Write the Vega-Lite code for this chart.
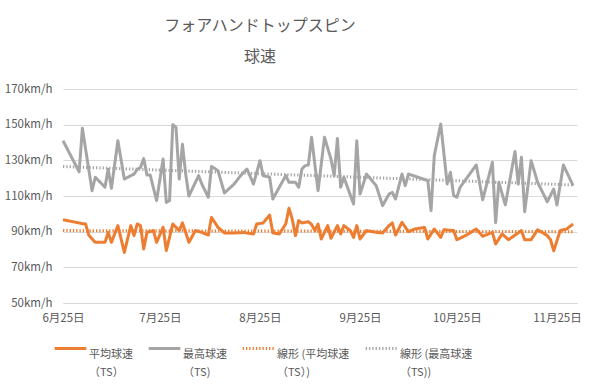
{
  "$schema": "https://vega.github.io/schema/vega-lite/v6.json",
  "width": 514,
  "height": 214,
  "autosize": {"type": "none"},
  "padding": {"left": 63, "top": 89, "right": 14, "bottom": 81},
  "background": "white",
  "title": {
    "text": ["フォアハンドトップスピン", "球速"],
    "font": "Noto Sans CJK JP",
    "fontSize": 16,
    "fontWeight": "normal",
    "color": "#595959",
    "lineHeight": 31,
    "anchor": "middle",
    "baseline": "bottom",
    "offset": 2,
    "dx": -60
  },
  "config": {
    "font": "Noto Sans CJK JP",
    "view": {"stroke": null},
    "style": {"guide-label": {"lineHeight": 18}},
    "axis": {
      "labelFont": "Noto Sans CJK JP",
      "labelColor": "#595959",
      "labelFontSize": 11.5,
      "ticks": false,
      "tickSize": 0,
      "title": null
    }
  },
  "data": {
    "values": [
      {"series": "平均球速（TS）", "date": "2017-06-25", "value": 96.7},
      {"series": "平均球速（TS）", "date": "2017-07-01", "value": 94.5},
      {"series": "平均球速（TS）", "date": "2017-07-02", "value": 94.3},
      {"series": "平均球速（TS）", "date": "2017-07-03", "value": 88},
      {"series": "平均球速（TS）", "date": "2017-07-05", "value": 84},
      {"series": "平均球速（TS）", "date": "2017-07-08", "value": 84},
      {"series": "平均球速（TS）", "date": "2017-07-09", "value": 89.6},
      {"series": "平均球速（TS）", "date": "2017-07-10", "value": 84},
      {"series": "平均球速（TS）", "date": "2017-07-12", "value": 93.4},
      {"series": "平均球速（TS）", "date": "2017-07-14", "value": 78.4},
      {"series": "平均球速（TS）", "date": "2017-07-16", "value": 93.4},
      {"series": "平均球速（TS）", "date": "2017-07-17", "value": 87.8},
      {"series": "平均球速（TS）", "date": "2017-07-18", "value": 94.3},
      {"series": "平均球速（TS）", "date": "2017-07-19", "value": 93.4},
      {"series": "平均球速（TS）", "date": "2017-07-20", "value": 80.3},
      {"series": "平均球速（TS）", "date": "2017-07-21", "value": 89.6},
      {"series": "平均球速（TS）", "date": "2017-07-23", "value": 90.6},
      {"series": "平均球速（TS）", "date": "2017-07-24", "value": 84},
      {"series": "平均球速（TS）", "date": "2017-07-26", "value": 92.5},
      {"series": "平均球速（TS）", "date": "2017-07-27", "value": 79.4},
      {"series": "平均球速（TS）", "date": "2017-07-29", "value": 94.3},
      {"series": "平均球速（TS）", "date": "2017-07-31", "value": 90.6},
      {"series": "平均球速（TS）", "date": "2017-08-01", "value": 94.9},
      {"series": "平均球速（TS）", "date": "2017-08-02", "value": 89.6},
      {"series": "平均球速（TS）", "date": "2017-08-03", "value": 84},
      {"series": "平均球速（TS）", "date": "2017-08-05", "value": 90.6},
      {"series": "平均球速（TS）", "date": "2017-08-07", "value": 89.6},
      {"series": "平均球速（TS）", "date": "2017-08-09", "value": 88.1},
      {"series": "平均球速（TS）", "date": "2017-08-10", "value": 98},
      {"series": "平均球速（TS）", "date": "2017-08-12", "value": 92.4},
      {"series": "平均球速（TS）", "date": "2017-08-14", "value": 89.3},
      {"series": "平均球速（TS）", "date": "2017-08-17", "value": 89.3},
      {"series": "平均球速（TS）", "date": "2017-08-20", "value": 89.5},
      {"series": "平均球速（TS）", "date": "2017-08-23", "value": 88.7},
      {"series": "平均球速（TS）", "date": "2017-08-24", "value": 94.3},
      {"series": "平均球速（TS）", "date": "2017-08-26", "value": 94.9},
      {"series": "平均球速（TS）", "date": "2017-08-28", "value": 99.3},
      {"series": "平均球速（TS）", "date": "2017-08-29", "value": 89.3},
      {"series": "平均球速（TS）", "date": "2017-08-31", "value": 88.7},
      {"series": "平均球速（TS）", "date": "2017-09-02", "value": 94.3},
      {"series": "平均球速（TS）", "date": "2017-09-03", "value": 103.1},
      {"series": "平均球速（TS）", "date": "2017-09-04", "value": 97.1},
      {"series": "平均球速（TS）", "date": "2017-09-05", "value": 87.8},
      {"series": "平均球速（TS）", "date": "2017-09-06", "value": 96.2},
      {"series": "平均球速（TS）", "date": "2017-09-07", "value": 94.9},
      {"series": "平均球速（TS）", "date": "2017-09-09", "value": 95.6},
      {"series": "平均球速（TS）", "date": "2017-09-10", "value": 94},
      {"series": "平均球速（TS）", "date": "2017-09-11", "value": 90.6},
      {"series": "平均球速（TS）", "date": "2017-09-12", "value": 94.3},
      {"series": "平均球速（TS）", "date": "2017-09-13", "value": 85.9},
      {"series": "平均球速（TS）", "date": "2017-09-15", "value": 93.4},
      {"series": "平均球速（TS）", "date": "2017-09-16", "value": 86.3},
      {"series": "平均球速（TS）", "date": "2017-09-18", "value": 93.4},
      {"series": "平均球速（TS）", "date": "2017-09-19", "value": 88.7},
      {"series": "平均球速（TS）", "date": "2017-09-20", "value": 93.4},
      {"series": "平均球速（TS）", "date": "2017-09-22", "value": 90.6},
      {"series": "平均球速（TS）", "date": "2017-09-23", "value": 86.8},
      {"series": "平均球速（TS）", "date": "2017-09-24", "value": 93.4},
      {"series": "平均球速（TS）", "date": "2017-09-25", "value": 85.9},
      {"series": "平均球速（TS）", "date": "2017-09-27", "value": 90.6},
      {"series": "平均球速（TS）", "date": "2017-09-30", "value": 89.6},
      {"series": "平均球速（TS）", "date": "2017-10-02", "value": 89.3},
      {"series": "平均球速（TS）", "date": "2017-10-04", "value": 93.4},
      {"series": "平均球速（TS）", "date": "2017-10-05", "value": 94.9},
      {"series": "平均球速（TS）", "date": "2017-10-06", "value": 88.1},
      {"series": "平均球速（TS）", "date": "2017-10-08", "value": 95.2},
      {"series": "平均球速（TS）", "date": "2017-10-10", "value": 90},
      {"series": "平均球速（TS）", "date": "2017-10-12", "value": 91.5},
      {"series": "平均球速（TS）", "date": "2017-10-15", "value": 92.4},
      {"series": "平均球速（TS）", "date": "2017-10-16", "value": 85.9},
      {"series": "平均球速（TS）", "date": "2017-10-18", "value": 91.5},
      {"series": "平均球速（TS）", "date": "2017-10-20", "value": 86.8},
      {"series": "平均球速（TS）", "date": "2017-10-21", "value": 91.1},
      {"series": "平均球速（TS）", "date": "2017-10-24", "value": 90.6},
      {"series": "平均球速（TS）", "date": "2017-10-25", "value": 85.5},
      {"series": "平均球速（TS）", "date": "2017-10-28", "value": 88.1},
      {"series": "平均球速（TS）", "date": "2017-10-31", "value": 91.5},
      {"series": "平均球速（TS）", "date": "2017-11-02", "value": 87.4},
      {"series": "平均球速（TS）", "date": "2017-11-05", "value": 89.6},
      {"series": "平均球速（TS）", "date": "2017-11-06", "value": 83.1},
      {"series": "平均球速（TS）", "date": "2017-11-08", "value": 88.7},
      {"series": "平均球速（TS）", "date": "2017-11-10", "value": 85.5},
      {"series": "平均球速（TS）", "date": "2017-11-14", "value": 90.6},
      {"series": "平均球速（TS）", "date": "2017-11-15", "value": 85.5},
      {"series": "平均球速（TS）", "date": "2017-11-17", "value": 85.5},
      {"series": "平均球速（TS）", "date": "2017-11-19", "value": 91.1},
      {"series": "平均球速（TS）", "date": "2017-11-22", "value": 87.8},
      {"series": "平均球速（TS）", "date": "2017-11-23", "value": 85.5},
      {"series": "平均球速（TS）", "date": "2017-11-24", "value": 79.3},
      {"series": "平均球速（TS）", "date": "2017-11-26", "value": 90.6},
      {"series": "平均球速（TS）", "date": "2017-11-28", "value": 91.5},
      {"series": "平均球速（TS）", "date": "2017-11-30", "value": 94.3},

      {"series": "最高球速（TS)", "date": "2017-06-25", "value": 141},
      {"series": "最高球速（TS)", "date": "2017-06-30", "value": 123.6},
      {"series": "最高球速（TS)", "date": "2017-07-01", "value": 148},
      {"series": "最高球速（TS)", "date": "2017-07-04", "value": 113},
      {"series": "最高球速（TS)", "date": "2017-07-05", "value": 120.5},
      {"series": "最高球速（TS)", "date": "2017-07-08", "value": 115},
      {"series": "最高球速（TS)", "date": "2017-07-09", "value": 125},
      {"series": "最高球速（TS)", "date": "2017-07-10", "value": 114.3},
      {"series": "最高球速（TS)", "date": "2017-07-12", "value": 141},
      {"series": "最高球速（TS)", "date": "2017-07-14", "value": 119.5},
      {"series": "最高球速（TS)", "date": "2017-07-16", "value": 121.4},
      {"series": "最高球速（TS)", "date": "2017-07-17", "value": 122.3},
      {"series": "最高球速（TS)", "date": "2017-07-18", "value": 125},
      {"series": "最高球速（TS)", "date": "2017-07-19", "value": 126},
      {"series": "最高球速（TS)", "date": "2017-07-20", "value": 131},
      {"series": "最高球速（TS)", "date": "2017-07-21", "value": 121.8},
      {"series": "最高球速（TS)", "date": "2017-07-22", "value": 121.8},
      {"series": "最高球速（TS)", "date": "2017-07-24", "value": 107.4},
      {"series": "最高球速（TS)", "date": "2017-07-26", "value": 130.7},
      {"series": "最高球速（TS)", "date": "2017-07-27", "value": 106.4},
      {"series": "最高球速（TS)", "date": "2017-07-28", "value": 107.4},
      {"series": "最高球速（TS)", "date": "2017-07-29", "value": 150},
      {"series": "最高球速（TS)", "date": "2017-07-30", "value": 148.5},
      {"series": "最高球速（TS)", "date": "2017-07-31", "value": 119.5},
      {"series": "最高球速（TS)", "date": "2017-08-01", "value": 139},
      {"series": "最高球速（TS)", "date": "2017-08-02", "value": 122.3},
      {"series": "最高球速（TS)", "date": "2017-08-03", "value": 110},
      {"series": "最高球速（TS)", "date": "2017-08-06", "value": 121.4},
      {"series": "最高球速（TS)", "date": "2017-08-07", "value": 116.7},
      {"series": "最高球速（TS)", "date": "2017-08-09", "value": 109.3},
      {"series": "最高球速（TS)", "date": "2017-08-10", "value": 126.6},
      {"series": "最高球速（TS)", "date": "2017-08-12", "value": 124.2},
      {"series": "最高球速（TS)", "date": "2017-08-14", "value": 111.7},
      {"series": "最高球速（TS)", "date": "2017-08-17", "value": 116.7},
      {"series": "最高球速（TS)", "date": "2017-08-19", "value": 121.4},
      {"series": "最高球速（TS)", "date": "2017-08-21", "value": 125.1},
      {"series": "最高球速（TS)", "date": "2017-08-23", "value": 116.7},
      {"series": "最高球速（TS)", "date": "2017-08-25", "value": 129.8},
      {"series": "最高球速（TS)", "date": "2017-08-26", "value": 121.4},
      {"series": "最高球速（TS)", "date": "2017-08-28", "value": 120.5},
      {"series": "最高球速（TS)", "date": "2017-08-29", "value": 108.3},
      {"series": "最高球速（TS)", "date": "2017-08-31", "value": 114.9},
      {"series": "最高球速（TS)", "date": "2017-09-02", "value": 121.4},
      {"series": "最高球速（TS)", "date": "2017-09-03", "value": 117.7},
      {"series": "最高球速（TS)", "date": "2017-09-05", "value": 117.7},
      {"series": "最高球速（TS)", "date": "2017-09-06", "value": 114.9},
      {"series": "最高球速（TS)", "date": "2017-09-07", "value": 125.1},
      {"series": "最高球速（TS)", "date": "2017-09-08", "value": 127},
      {"series": "最高球速（TS)", "date": "2017-09-09", "value": 127.4},
      {"series": "最高球速（TS)", "date": "2017-09-10", "value": 142.9},
      {"series": "最高球速（TS)", "date": "2017-09-12", "value": 113},
      {"series": "最高球速（TS)", "date": "2017-09-14", "value": 142.9},
      {"series": "最高球速（TS)", "date": "2017-09-16", "value": 130.7},
      {"series": "最高球速（TS)", "date": "2017-09-17", "value": 121.4},
      {"series": "最高球速（TS)", "date": "2017-09-18", "value": 142.3},
      {"series": "最高球速（TS)", "date": "2017-09-19", "value": 114.9},
      {"series": "最高球速（TS)", "date": "2017-09-20", "value": 120.5},
      {"series": "最高球速（TS)", "date": "2017-09-23", "value": 105.5},
      {"series": "最高球速（TS)", "date": "2017-09-24", "value": 141},
      {"series": "最高球速（TS)", "date": "2017-09-25", "value": 111.1},
      {"series": "最高球速（TS)", "date": "2017-09-27", "value": 122.3},
      {"series": "最高球速（TS)", "date": "2017-09-30", "value": 115.8},
      {"series": "最高球速（TS)", "date": "2017-10-02", "value": 104.6},
      {"series": "最高球速（TS)", "date": "2017-10-04", "value": 111.1},
      {"series": "最高球速（TS)", "date": "2017-10-05", "value": 112},
      {"series": "最高球速（TS)", "date": "2017-10-06", "value": 108.3},
      {"series": "最高球速（TS)", "date": "2017-10-08", "value": 122.3},
      {"series": "最高球速（TS)", "date": "2017-10-09", "value": 115.8},
      {"series": "最高球速（TS)", "date": "2017-10-10", "value": 122.3},
      {"series": "最高球速（TS)", "date": "2017-10-13", "value": 120.5},
      {"series": "最高球速（TS)", "date": "2017-10-16", "value": 118.6},
      {"series": "最高球速（TS)", "date": "2017-10-17", "value": 101.8},
      {"series": "最高球速（TS)", "date": "2017-10-18", "value": 132.6},
      {"series": "最高球速（TS)", "date": "2017-10-20", "value": 150.4},
      {"series": "最高球速（TS)", "date": "2017-10-22", "value": 116.7},
      {"series": "最高球速（TS)", "date": "2017-10-23", "value": 123.3},
      {"series": "最高球速（TS)", "date": "2017-10-24", "value": 110.2},
      {"series": "最高球速（TS)", "date": "2017-10-25", "value": 109.3},
      {"series": "最高球速（TS)", "date": "2017-10-26", "value": 114.9},
      {"series": "最高球速（TS)", "date": "2017-10-31", "value": 127.4},
      {"series": "最高球速（TS)", "date": "2017-11-02", "value": 107.9},
      {"series": "最高球速（TS)", "date": "2017-11-05", "value": 128.9},
      {"series": "最高球速（TS)", "date": "2017-11-06", "value": 95},
      {"series": "最高球速（TS)", "date": "2017-11-07", "value": 117.7},
      {"series": "最高球速（TS)", "date": "2017-11-09", "value": 105},
      {"series": "最高球速（TS)", "date": "2017-11-12", "value": 134.9},
      {"series": "最高球速（TS)", "date": "2017-11-13", "value": 116.7},
      {"series": "最高球速（TS)", "date": "2017-11-14", "value": 131.7},
      {"series": "最高球速（TS)", "date": "2017-11-15", "value": 101.2},
      {"series": "最高球速（TS)", "date": "2017-11-17", "value": 129.8},
      {"series": "最高球速（TS)", "date": "2017-11-19", "value": 117.7},
      {"series": "最高球速（TS)", "date": "2017-11-22", "value": 106.8},
      {"series": "最高球速（TS)", "date": "2017-11-24", "value": 113.9},
      {"series": "最高球速（TS)", "date": "2017-11-25", "value": 105},
      {"series": "最高球速（TS)", "date": "2017-11-27", "value": 127.4},
      {"series": "最高球速（TS)", "date": "2017-11-30", "value": 115.8},

      {"series": "線形 (平均球速（TS）)", "date": "2017-06-25", "value": 90.6},
      {"series": "線形 (平均球速（TS）)", "date": "2017-11-30", "value": 90.0},
      {"series": "線形 (最高球速（TS))", "date": "2017-06-25", "value": 126.5},
      {"series": "線形 (最高球速（TS))", "date": "2017-11-30", "value": 116.2}
    ]
  },
  "mark": {"type": "line", "strokeJoin": "round", "strokeCap": "butt"},
  "encoding": {
    "x": {
      "field": "date",
      "type": "temporal",
      "scale": {
        "type": "utc",
        "nice": false,
        "domain": [
          {"year": 2017, "month": 6, "date": 25, "utc": true},
          {"year": 2017, "month": 12, "date": 1, "hours": 5, "utc": true}
        ]
      },
      "axis": {
        "format": "%-m月%-d日",
        "values": [
          {"year": 2017, "month": 6, "date": 25, "utc": true},
          {"year": 2017, "month": 7, "date": 25, "utc": true},
          {"year": 2017, "month": 8, "date": 25, "utc": true},
          {"year": 2017, "month": 9, "date": 25, "utc": true},
          {"year": 2017, "month": 10, "date": 25, "utc": true},
          {"year": 2017, "month": 11, "date": 25, "utc": true}
        ],
        "grid": false,
        "domain": true,
        "domainColor": "#D9D9D9",
        "domainWidth": 1,
        "labelPadding": 9,
        "labelFlush": false,
        "labelOverlap": false
      }
    },
    "y": {
      "field": "value",
      "type": "quantitative",
      "scale": {"domain": [50, 170], "nice": false, "zero": false},
      "axis": {
        "values": [50, 70, 90, 110, 130, 150, 170],
        "labelExpr": "datum.value + 'km/h'",
        "grid": true,
        "gridColor": "#D9D9D9",
        "gridWidth": 1,
        "domain": false,
        "labelPadding": 11
      }
    },
    "color": {
      "field": "series",
      "type": "nominal",
      "scale": {
        "domain": ["平均球速（TS）", "最高球速（TS)", "線形 (平均球速（TS）)", "線形 (最高球速（TS))"],
        "range": ["#ED7D31", "#A5A5A5", "#ED7D31", "#A5A5A5"]
      },
      "legend": {
        "title": null,
        "orient": "none",
        "legendX": -10,
        "legendY": 242,
        "direction": "horizontal",
        "columns": 4,
        "gridAlign": "none",
        "columnPadding": 9,
        "symbolType": "stroke",
        "symbolSize": 1000,
        "labelFont": "Noto Sans CJK JP",
        "labelFontSize": 11,
        "labelColor": "#595959",
        "labelOffset": 1,
        "labelLimit": 200,
        "labelBaseline": "top",
        "labelExpr": "[slice(datum.label, 0, indexof(datum.label, '（')), slice(datum.label, indexof(datum.label, '（'))]"
      }
    },
    "strokeDash": {
      "field": "series",
      "type": "nominal",
      "scale": {
        "domain": ["平均球速（TS）", "最高球速（TS)", "線形 (平均球速（TS）)", "線形 (最高球速（TS))"],
        "range": [[1, 0], [1, 0], [1.3, 2], [1.3, 2]]
      },
      "legend": null
    },
    "strokeWidth": {
      "field": "series",
      "type": "ordinal",
      "scale": {
        "domain": ["平均球速（TS）", "最高球速（TS)", "線形 (平均球速（TS）)", "線形 (最高球速（TS))"],
        "range": [3, 3, 1.3, 1.3]
      },
      "legend": null
    }
  }
}
